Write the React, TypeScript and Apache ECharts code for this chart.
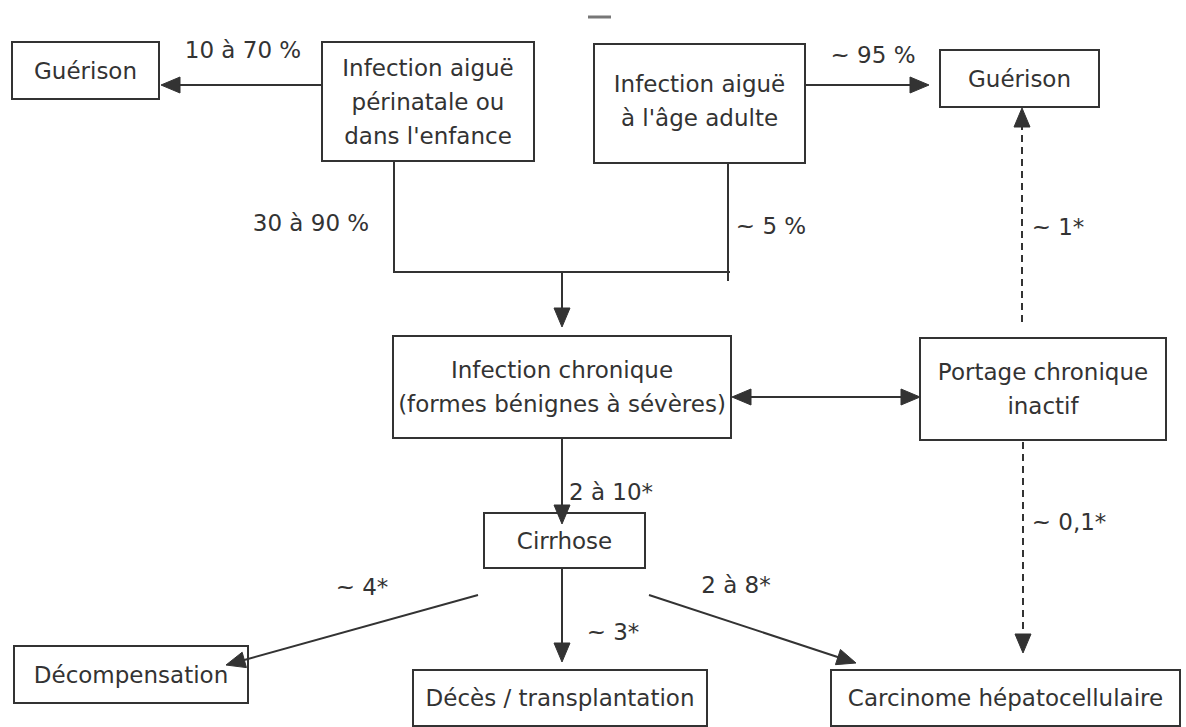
import React, { useEffect, useRef } from "react";
import * as echarts from "echarts";

// ---- Content (data) ----
const nodeLabels: string[] = [
  "Guérison",
  "Infection aiguë\npérinatale ou\ndans l'enfance",
  "Infection aiguë\nà l'âge adulte",
  "Guérison",
  "Infection chronique\n(formes bénignes à sévères)",
  "Portage chronique\ninactif",
  "Cirrhose",
  "Décompensation",
  "Décès / transplantation",
  "Carcinome hépatocellulaire",
];

const edgeLabels: string[] = [
  "10 à 70 %",
  "~ 95 %",
  "30 à 90 %",
  "~ 5 %",
  "",
  "~ 1*",
  "",
  "~ 0,1*",
  "2 à 10*",
  "~ 4*",
  "~ 3*",
  "2 à 8*",
];

// ---- Layout (positions in diagram units = page pixels) ----
const boxLayout: number[][] = [
  [12, 42, 159, 99],
  [322, 42, 534, 161],
  [594, 44, 805, 163],
  [940, 50, 1099, 107],
  [393, 336, 731, 438],
  [920, 338, 1166, 440],
  [484, 513, 645, 568],
  [14, 646, 248, 703],
  [413, 670, 707, 726],
  [831, 670, 1180, 726],
];
const boxTextOffset: number[] = [0, 0, -3, 0, 0, 0, 0, 0, 0, 0];

const edgeRoutes: number[][][] = [
  [[322, 85], [161, 85]],
  [[805, 85], [929, 85]],
  [[394, 161], [394, 272], [730, 272]],
  [[728, 163], [728, 281]],
  [[562, 272], [562, 327]],
  [[1022, 322], [1022, 108]],
  [[732, 397], [920, 397]],
  [[1023, 442], [1023, 653]],
  [[562, 438], [562, 524]],
  [[478, 595], [226, 665]],
  [[562, 568], [562, 662]],
  [[649, 595], [856, 663]],
];
const edgeArrowEnd: boolean[] = [true, true, false, false, true, true, true, true, true, true, true, true];
const edgeArrowStart: boolean[] = [false, false, false, false, false, false, true, false, false, false, false, false];
const edgeDashed: boolean[] = [false, false, false, false, false, true, false, true, false, false, false, false];
const edgeLabelPos: number[][] = [
  [243, 50],
  [873, 55],
  [311, 223],
  [771, 226],
  [0, 0],
  [1058, 227],
  [0, 0],
  [1069, 522],
  [611, 492],
  [362, 587],
  [613, 632],
  [736, 585],
];

const INK = "#333333";
const FONT = "DejaVu Sans";
const FONT_SIZE = 23;
const ARROW_LEN = 19;
const ARROW_W = 16;

function arrowHead(tip: number[], from: number[]) {
  const dx = tip[0] - from[0];
  const dy = tip[1] - from[1];
  const L = Math.sqrt(dx * dx + dy * dy) || 1;
  const ux = dx / L;
  const uy = dy / L;
  const bx = tip[0] - ux * ARROW_LEN;
  const by = tip[1] - uy * ARROW_LEN;
  const nx = -uy * (ARROW_W / 2);
  const ny = ux * (ARROW_W / 2);
  return {
    base: [bx + ux * 2, by + uy * 2],
    points: [
      [tip[0], tip[1]],
      [bx + nx, by + ny],
      [bx - nx, by - ny],
    ],
  };
}

export default function App() {
  const ref = useRef<HTMLDivElement>(null);

  useEffect(() => {
    if (!ref.current) return;
    const chart = echarts.init(ref.current, undefined, { renderer: "svg" });

    const option: any = {
      animation: false,
      backgroundColor: "#ffffff",
      grid: { left: 0, right: 0, top: 0, bottom: 0, containLabel: false },
      xAxis: { type: "value", min: 0, max: 1186, show: false },
      yAxis: { type: "value", min: 0, max: 727, inverse: true, show: false },
      graphic: [
        {
          type: "line",
          shape: { x1: 588, y1: 17, x2: 611, y2: 17 },
          style: { stroke: "#777", lineWidth: 3 },
          silent: true,
        },
      ],
      series: [
        {
          type: "custom",
          name: "nodes",
          coordinateSystem: "cartesian2d",
          silent: true,
          clip: false,
          z: 2,
          data: nodeLabels.map((label, i) => ({ name: label, value: [i, 0] })),
          renderItem: (params: any, api: any) => {
            const i = params.dataIndex;
            const [x0, y0, x1, y1] = boxLayout[i];
            const p0 = api.coord([x0, y0]);
            const p1 = api.coord([x1, y1]);
            return {
              type: "group",
              children: [
                {
                  type: "rect",
                  shape: { x: p0[0], y: p0[1], width: p1[0] - p0[0], height: p1[1] - p0[1] },
                  style: { fill: "#ffffff", stroke: INK, lineWidth: 2 },
                  z2: 0,
                },
                {
                  type: "text",
                  x: (p0[0] + p1[0]) / 2,
                  y: (p0[1] + p1[1]) / 2 + boxTextOffset[i],
                  z2: 1,
                  style: {
                    text: nodeLabels[i],
                    fill: INK,
                    fontFamily: FONT,
                    fontSize: FONT_SIZE,
                    lineHeight: 34,
                    align: "center",
                    verticalAlign: "middle",
                  },
                },
              ],
            };
          },
        },
        {
          type: "custom",
          name: "edges",
          coordinateSystem: "cartesian2d",
          silent: true,
          clip: false,
          z: 3,
          data: edgeLabels.map((label, i) => ({ name: label, value: [i, 0] })),
          renderItem: (params: any, api: any) => {
            const i = params.dataIndex;
            const pts = edgeRoutes[i].map((p) => api.coord(p));
            const children: any[] = [];
            const linePts = pts.map((p: number[]) => [p[0], p[1]]);
            if (edgeArrowEnd[i]) {
              const n = linePts.length;
              const ah = arrowHead(pts[n - 1], pts[n - 2]);
              linePts[n - 1] = ah.base;
              children.push({
                type: "polygon",
                shape: { points: ah.points },
                style: { fill: INK, stroke: INK, lineWidth: 1 },
              });
            }
            if (edgeArrowStart[i]) {
              const ah = arrowHead(pts[0], pts[1]);
              linePts[0] = ah.base;
              children.push({
                type: "polygon",
                shape: { points: ah.points },
                style: { fill: INK, stroke: INK, lineWidth: 1 },
              });
            }
            children.unshift({
              type: "polyline",
              shape: { points: linePts },
              style: {
                stroke: INK,
                lineWidth: 2,
                fill: "none",
                lineDash: edgeDashed[i] ? [7, 5] : null,
              },
            });
            if (edgeLabels[i]) {
              const lp = api.coord(edgeLabelPos[i]);
              children.push({
                type: "text",
                x: lp[0],
                y: lp[1],
                style: {
                  text: edgeLabels[i],
                  fill: INK,
                  fontFamily: FONT,
                  fontSize: FONT_SIZE,
                  align: "center",
                  verticalAlign: "middle",
                },
              });
            }
            return { type: "group", children };
          },
        },
      ],
    };

    chart.setOption(option);
    return () => chart.dispose();
  }, []);

  return (
    <div
      ref={ref}
      style={{ position: "absolute", left: 0, top: 0, width: 1186, height: 727, background: "#fff" }}
    />
  );
}
